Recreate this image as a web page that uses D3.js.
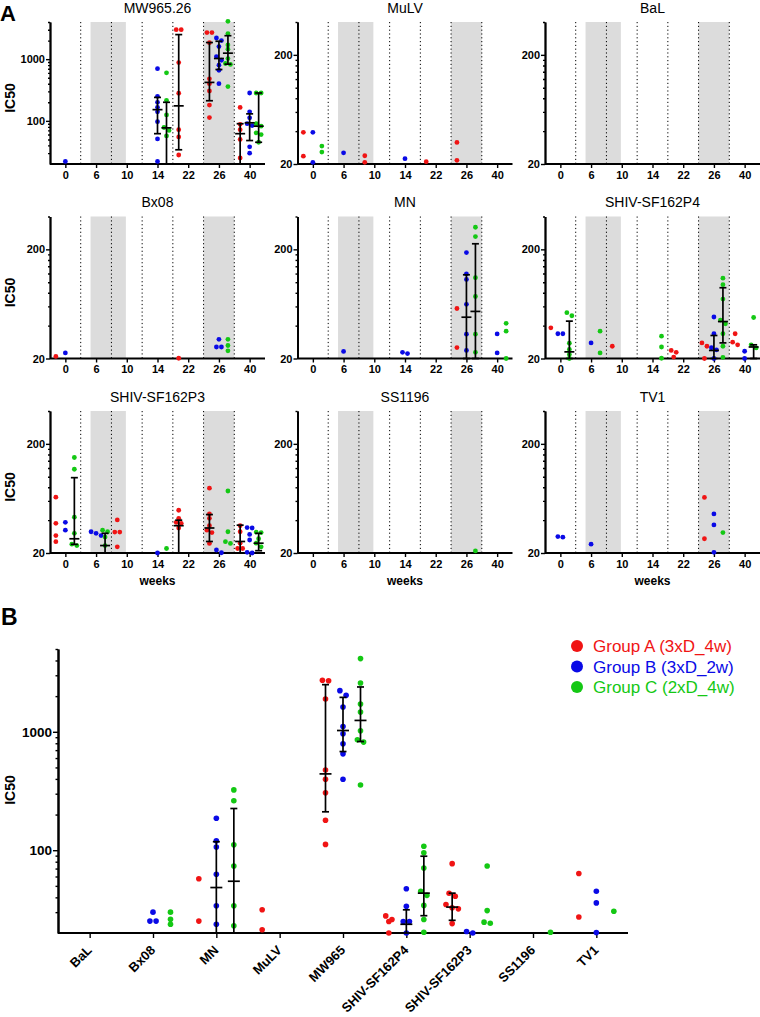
<!DOCTYPE html>
<html><head><meta charset="utf-8">
<script src="https://cdn.jsdelivr.net/npm/d3@7"></script>
<style>body{margin:0;background:#fff}svg{display:block}text{font-family:"Liberation Sans",Arial,sans-serif}</style>
</head><body><svg id="c" width="760" height="1017"></svg>
<script>
// ---------------- DATA ----------------
const weeks = ["0","6","10","14","22","26","40"];
const groupNames = ["Group A (3xD_4w)","Group B (3xD_2w)","Group C (2xD_4w)"];
const groupColors = ["#f01414","#0a0ae6","#14c814"];

// Panel A: [week, group index, IC50 values]
const ptsMW965 = [
 ["0",1,[22]],
 ["14",1,[700,250,200,166,140,97,51,22]],
 ["14",2,[600,215,125,78,70,57]],
 ["22",0,[3000,3000,880,280,72,55,28]],
 ["26",0,[2700,2700,1850,480,400,305,180,113]],
 ["26",1,[2200,2000,1600,1100,960,800,660,400]],
 ["26",2,[4100,2600,1700,1450,1020,850,820,360]],
 ["40",0,[165,88,72,50,25]],
 ["40",1,[283,140,112,90,84,38,30]],
 ["40",2,[283,283,90,82,64,60,45]]
];
// error bars: [week, group, low, median, high]
const barsMW965 = [
 ["14",1,62,152,240],["14",2,20,77,200],["22",0,34,175,2500],
 ["26",0,212,420,1860],["26",1,680,1025,1950],["26",2,830,1250,2400],
 ["40",0,20,62,90],["40",1,48,93,130],["40",2,45,82,283]
];
const ptsMuLV = [
 ["0",0,[39,23.6]],["0",1,[39,20.7]],["0",2,[25.7,29.2]],["6",1,[25.3]],
 ["10",0,[20.7,23.8]],["14",1,[22.4]],["22",0,[21]],["26",0,[31.5,21.6]]
];
const ptsBaL = [];
const ptsBx08 = [
 ["0",0,[20.9]],["0",1,[22.5]],["22",0,[20.1]],["26",1,[30,25.5,25.5]],["26",2,[30,26.3,23.5]]
];
const ptsMN = [
 ["6",1,[23.2]],["14",1,[22.2,22.8]],["26",0,[57.4,25.2]],
 ["26",1,[187,119,106,62.7,33.4,23.7]],["26",2,[319,262,110,74,33.4,22.8]],
 ["40",1,[33.6,22.5]],["40",2,[42,35.6,20]]
];
const barsMN = [["26",1,20,47.8,117],["26",2,20,54,225]];
const ptsP4 = [
 ["0",0,[38.2]],["0",1,[33.7,33.7]],["0",2,[52.6,49.3,27.6,24.2,21.8,20]],
 ["6",1,[27.8]],["6",2,[35.6,22.5]],["10",0,[25.9]],["14",2,[32,25.5,20.1]],
 ["22",0,[23.7,22.8,20.6]],["26",0,[27.8,25.9,20]],["26",1,[48,33.7,25.1,24,20]],
 ["26",2,[109,95,70,45,41.6,33.7,25.9,20.5]],["40",0,[33.7,28.2,26.7]],
 ["40",1,[23.3,20]],["40",2,[47.5,26.7,25]]
];
const barsP4 = [["0",2,20,23,44],["26",1,20,23.7,32.5],["26",2,27.8,43.6,89],["40",2,20,25.5,26.7]];
const ptsP3 = [
 ["0",0,[64.9,37.4,28.9,25.4]],["0",1,[38.2,32.4]],["0",2,[150,117,42.6,30.3,24.1,23.4]],
 ["6",1,[31.3,30.3,28.9]],["6",2,[32.4,31.3,28,23.4]],["10",0,[40.2,31.1,31.1,22.8]],
 ["14",1,[20]],["14",2,[22]],["22",0,[49.3,41.6,38.2,37.4,33.9]],
 ["26",0,[78.6,45.6,41.6,35.6,32.4,30.8,24.5]],["26",1,[21.3,20.1]],["26",2,[74,31.3,25.4,24.5]],
 ["40",0,[35.6,31.3,24.6,22,22]],["40",1,[34.2,33.9,29.6,26.3,20.3,20]],["40",2,[31.1,30.8,27,24.6,22.8]]
];
const barsP3 = [["0",2,24,27,98],["6",2,20,23.4,30.3],["22",0,20,35.6,40],["26",0,25.5,33.9,45],["40",0,20,25.5,36],["40",2,21,24.6,30.3]];
const ptsSS1196 = [["26",2,[20.9]]];
const ptsTV1 = [
 ["0",1,[27.9,28.3]],["6",1,[24.1]],["26",0,[64.6,27]],["26",1,[45.6,36.2,20.3]],["26",2,[30.8]]
];
const titlesA = ["MW965.26","MuLV","BaL","Bx08","MN","SHIV-SF162P4","SHIV-SF162P3","SS1196","TV1"];
const yMaxA = [4000,400,400,400,400,400,400,400,400];

// Panel B
const virusesB = ["BaL","Bx08","MN","MuLV","MW965","SHIV-SF162P4","SHIV-SF162P3","SS1196","TV1"];
const ptsB = [
 ["Bx08",1,[30,25.2,25.2]],["Bx08",2,[30,26.1,23.7]],
 ["MN",0,[57.4,25.2]],["MN",1,[186,120,106.5,62.6,34,23.7]],["MN",2,[323,262,111,73.5,34,23]],
 ["MuLV",0,[31.4,21.3]],
 ["MW965",0,[2700,2720,1890,476,397,306,179,112]],["MW965",1,[2225,2030,1620,1108,962,791,651,397]],
 ["MW965",2,[4150,2585,1717,1468,1020,855,818,355]],
 ["SHIV-SF162P4",0,[27.9,26,25,20]],["SHIV-SF162P4",1,[47.3,33.6,25,25,20]],
 ["SHIV-SF162P4",2,[108,95,70.6,45,41.6,34.2,26,20.3]],
 ["SHIV-SF162P3",0,[77,43.3,40.9,34.8,32.6,32,24]],["SHIV-SF162P3",1,[20.6,20]],
 ["SHIV-SF162P3",2,[73.5,30.9,24.7,24.2]],
 ["SS1196",2,[20.3]],
 ["TV1",0,[63.6,27.3]],["TV1",1,[45,35.9,20.2]],["TV1",2,[30.5]]
];
const barsB = [
 ["MN",1,20,48.4,118],["MN",2,20,54.7,225],
 ["MW965",0,211,441,2500],["MW965",1,681,1025,1952],["MW965",2,827,1247,2390],
 ["SHIV-SF162P4",1,20,23.7,31.4],["SHIV-SF162P4",2,28,43.4,89],["SHIV-SF162P3",0,25.6,33.1,43.4]
];

const ptsA = [ptsMW965,ptsMuLV,ptsBaL,ptsBx08,ptsMN,ptsP4,ptsP3,ptsSS1196,ptsTV1];
const barsA = [barsMW965,[],[],[],barsMN,barsP4,barsP3,[],[]];

// ---------------- DRAWING ----------------
const svg = d3.select("#c");

function swarm(vals, y, d) {
  const pts = vals.map(v => ({v, py: y(v)})).sort((a,b) => a.py - b.py);
  const rows = [];
  pts.forEach(p => {
    const last = rows[rows.length-1];
    if (last && Math.abs(p.py - last[0].py) < d*0.8) last.push(p); else rows.push([p]);
  });
  rows.forEach(r => r.forEach((p,i) => p.dx = (i - (r.length-1)/2) * d));
  return pts;
}

function drawBar(g, cx, y, b, capW, midW) {
  const [lo, mid, hi] = b;
  const ln = (x1,y1,x2,y2) => g.append("line").attr("x1",x1).attr("y1",y1).attr("x2",x2).attr("y2",y2)
      .attr("stroke","#000").attr("stroke-width",1.7);
  ln(cx, y(lo), cx, y(hi));
  ln(cx-capW/2, y(lo), cx+capW/2, y(lo));
  ln(cx-capW/2, y(hi), cx+capW/2, y(hi));
  ln(cx-midW/2, y(mid), cx+midW/2, y(mid));
}

function styleAxis(sel, w) {
  sel.select(".domain").attr("stroke","#000").attr("stroke-width",w);
  sel.selectAll(".tick line").attr("stroke","#000").attr("stroke-width",1.4);
  sel.selectAll("text").attr("fill","#000").attr("font-weight","bold")
     .attr("font-family","'Liberation Sans',Arial,sans-serif");
}

function logMinors(lo, hi, majors) {
  const out = [];
  for (let e = 1; e <= 4; e++) for (let m = 1; m <= 9; m++) {
    const v = m * Math.pow(10, e);
    if (v > lo && v <= hi && !majors.includes(v)) out.push(v);
  }
  return out;
}

const groupOffsetA = [-9.5, 0, 9];
titlesA.forEach((title, i) => {
  const col = i % 3, row = Math.floor(i / 3);
  const x0 = 50 + col * 247.5, x1 = x0 + 215;
  const yTop = 22 + row * 194.5, yBot = 164 + row * 194.5;
  const x = d3.scalePoint().domain(weeks).range([x0, x1]).padding(0.5);
  const step = x.step();
  const y = d3.scaleLog().domain([20, yMaxA[i]]).range([yBot, yTop]);
  const g = svg.append("g");

  // shaded immunisation windows
  g.append("rect").attr("x", x("6") - 0.18*step).attr("y", yTop)
   .attr("width", x("10") - 0.03*step - (x("6") - 0.18*step)).attr("height", yBot - yTop).attr("fill","#dcdcdc");
  g.append("rect").attr("x", x("26") - 0.5*step).attr("y", yTop)
   .attr("width", step).attr("height", yBot - yTop).attr("fill","#dcdcdc");
  // dotted separators
  weeks.slice(0, -1).forEach(w => {
    g.append("line").attr("x1", x(w) + step/2).attr("x2", x(w) + step/2)
     .attr("y1", yTop).attr("y2", yBot).attr("stroke","#000").attr("stroke-width",1)
     .attr("stroke-dasharray","1.2,2.6");
  });

  // axes
  let majors, minors;
  if (yMaxA[i] > 1000) { majors = [100, 1000]; minors = logMinors(20, yMaxA[i], majors); }
  else { majors = [20, 200]; minors = d3.range(40, 200, 20).concat([400]); }
  const ya = g.append("g").attr("transform", `translate(${x0},0)`)
    .call(d3.axisLeft(y).tickValues(majors).tickFormat(d3.format("d")).tickSize(4).tickSizeOuter(0).tickPadding(1));
  styleAxis(ya, 1.8);
  ya.selectAll("text").attr("font-size", 11);
  const ym = g.append("g").attr("transform", `translate(${x0},0)`)
    .call(d3.axisLeft(y).tickValues(minors).tickFormat("").tickSize(2).tickSizeOuter(0));
  styleAxis(ym, 1.8);
  const xa = g.append("g").attr("transform", `translate(0,${yBot})`)
    .call(d3.axisBottom(x).tickSize(4).tickSizeOuter(0).tickPadding(3));
  styleAxis(xa, 1.8);
  xa.select(".domain").attr("d", `M${x0},0H${x1}`);
  xa.selectAll("text").attr("font-size", 11);

  // title
  g.append("text").attr("x", (x0 + x1) / 2).attr("y", yTop - 9.5).attr("text-anchor","middle")
   .attr("font-size", 14).text(title);
  if (col === 0) {
    g.append("text").attr("transform", `translate(15,${(yTop + yBot)/2 + 5}) rotate(-90)`)
     .attr("text-anchor","middle").attr("font-size",14).attr("font-weight","bold").text("IC50");
  }
  if (row === 2) {
    g.append("text").attr("x", (x0 + x1)/2).attr("y", 585).attr("text-anchor","middle")
     .attr("font-size",12).attr("font-weight","bold").text("weeks");
  }

  // points
  ptsA[i].forEach(([w, gi, vals]) => {
    const cx = x(w) + groupOffsetA[gi];
    swarm(vals, y, 5).forEach(p => {
      g.append("circle").attr("cx", cx + p.dx).attr("cy", p.py).attr("r", 2.4).attr("fill", groupColors[gi]);
    });
  });
  barsA[i].forEach(([w, gi, lo, mid, hi]) => {
    drawBar(g, x(w) + groupOffsetA[gi], y, [lo, mid, hi], 7, 10);
  });
});

svg.append("text").attr("x", 0).attr("y", 20.5).attr("font-size", 22).attr("font-weight","bold").text("A");
svg.append("text").attr("x", 1).attr("y", 625).attr("font-size", 23).attr("font-weight","bold").text("B");

// ---------------- Panel B ----------------
{
  const x0 = 58, x1 = 628, yTop = 649, yBot = 933;
  const x = d3.scalePoint().domain(virusesB).range([x0, x1]).padding(0.5);
  const y = d3.scaleLog().domain([20, 5000]).range([yBot, yTop]);
  const g = svg.append("g");
  const majors = [100, 1000];
  const ya = g.append("g").attr("transform", `translate(${x0},0)`)
    .call(d3.axisLeft(y).tickValues(majors).tickFormat(d3.format("d")).tickSize(5).tickSizeOuter(0).tickPadding(1));
  styleAxis(ya, 2);
  ya.selectAll("text").attr("font-size", 13.5);
  const ym = g.append("g").attr("transform", `translate(${x0},0)`)
    .call(d3.axisLeft(y).tickValues(logMinors(20, 5000, majors)).tickFormat("").tickSize(2.5).tickSizeOuter(0));
  styleAxis(ym, 2);
  const xa = g.append("g").attr("transform", `translate(0,${yBot})`)
    .call(d3.axisBottom(x).tickSize(5).tickSizeOuter(0));
  styleAxis(xa, 2);
  xa.select(".domain").attr("d", `M${x0},0H${x1}`);
  xa.selectAll("text").attr("font-size", 13).attr("text-anchor","end")
    .attr("transform", "translate(2.5,18) rotate(-45)").attr("dy", 0).attr("y", 0).attr("x", 0);
  g.append("text").attr("transform", `translate(15,790) rotate(-90)`).attr("text-anchor","middle")
   .attr("font-size",14).attr("font-weight","bold").text("IC50");

  const offB = [-17.5, 0, 17.5];
  ptsB.forEach(([v, gi, vals]) => {
    const cx = x(v) + offB[gi];
    swarm(vals, y, 6.2).forEach(p => {
      g.append("circle").attr("cx", cx + p.dx).attr("cy", p.py).attr("r", 2.8).attr("fill", groupColors[gi]);
    });
  });
  barsB.forEach(([v, gi, lo, mid, hi]) => drawBar(g, x(v) + offB[gi], y, [lo, mid, hi], 7, 12));

  // legend
  const lg = svg.append("g");
  groupNames.forEach((n, i) => {
    lg.append("circle").attr("cx", 577).attr("cy", 646 + i*20.5).attr("r", 6).attr("fill", groupColors[i]);
    lg.append("text").attr("x", 593).attr("y", 646 + i*20.5 + 6).attr("font-size", 17)
      .attr("fill", groupColors[i]).text(n);
  });
}
</script></body></html>
